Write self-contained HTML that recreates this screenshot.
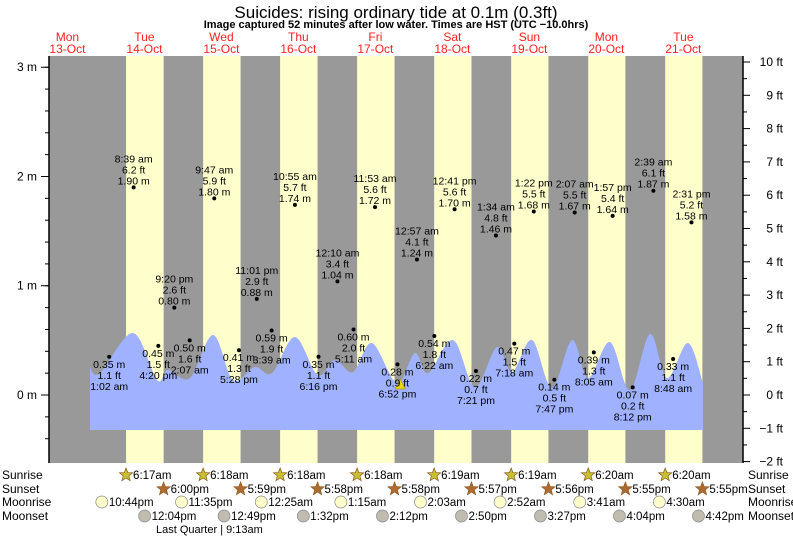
<!DOCTYPE html>
<html><head><meta charset="utf-8"><style>
html,body{margin:0;padding:0;background:#fff;}
svg{display:block;font-family:"Liberation Sans",sans-serif;}
</style></head><body>
<svg id="chart" width="793" height="537" viewBox="0 0 793 537">
<text x="396" y="18" text-anchor="middle" font-size="17" fill="#000">Suicides: rising  ordinary tide at 0.1m (0.3ft)</text>
<text x="396" y="28" text-anchor="middle" font-size="11" font-weight="bold" fill="#000">Image captured 52 minutes after low water. Times are HST (UTC −10.0hrs)</text>
<g id="bands"></g>
<g id="tide"></g>
<g id="axes"></g>
<g id="labels"></g>
<g id="events"></g>
</svg>
<script>
// ---- data ----
const dayNames = ["Mon","Tue","Wed","Thu","Fri","Sat","Sun","Mon","Tue"];
const dayDates = ["13-Oct","14-Oct","15-Oct","16-Oct","17-Oct","18-Oct","19-Oct","20-Oct","21-Oct"];
const sunriseHours = [6.28,6.30,6.30,6.30,6.32,6.32,6.33,6.33];
const sunriseLabels = ["6:17am","6:18am","6:18am","6:18am","6:19am","6:19am","6:20am","6:20am"];
const sunsetHours = [18.0,17.98,17.97,17.97,17.95,17.93,17.92,17.92];
const sunsetLabels = ["6:00pm","5:59pm","5:58pm","5:58pm","5:57pm","5:56pm","5:55pm","5:55pm"];
const moonriseHours = [-1.27,23.58,48.42,73.25,98.05,122.87,147.68,172.5];
const moonriseLabels = ["10:44pm","11:35pm","12:25am","1:15am","2:03am","2:52am","3:41am","4:30am"];
const moonsetHours = [12.07,36.82,61.53,86.2,110.83,135.45,160.07,184.7];
const moonsetLabels = ["12:04pm","12:49pm","1:32pm","2:12pm","2:50pm","3:27pm","4:04pm","4:42pm"];
// extremes: hours from midnight Tue 14-Oct
const extHours = [1.03,8.65,16.33,21.33,26.12,33.78,41.47,47.02,51.65,58.92,66.27,72.17,77.18,83.88,90.87,96.95,102.37,108.68,115.35,121.57,127.3,133.37,139.78,146.12,152.08,157.95,164.2,170.65,176.8,182.52];
const extMeters = [0.35,1.90,0.45,0.80,0.50,1.80,0.41,0.88,0.59,1.74,0.35,1.04,0.60,1.72,0.28,1.24,0.54,1.70,0.22,1.46,0.47,1.68,0.14,1.67,0.39,1.64,0.07,1.87,0.33,1.58];
const extFeet = ["1.1","6.2","1.5","2.6","1.6","5.9","1.3","2.9","1.9","5.7","1.1","3.4","2.0","5.6","0.9","4.1","1.8","5.6","0.7","4.8","1.5","5.5","0.5","5.5","1.3","5.4","0.2","6.1","1.1","5.2"];
const extTimes = ["1:02 am","8:39 am","4:20 pm","9:20 pm","2:07 am","9:47 am","5:28 pm","11:01 pm","3:39 am","10:55 am","6:16 pm","12:10 am","5:11 am","11:53 am","6:52 pm","12:57 am","6:22 am","12:41 pm","7:21 pm","1:34 am","7:18 am","1:22 pm","7:47 pm","2:07 am","8:05 am","1:57 pm","8:12 pm","2:39 am","8:48 am","2:31 pm"];
const extIsHigh = [0,1,0,1,0,1,0,1,0,1,0,1,0,1,0,1,0,1,0,1,0,1,0,1,0,1,0,1,0,1];
// drawn tide curve (ft)
const curveHours = [-4.96,-1.84,8.45,15.93,19.36,26.2,33.4,39.6,46.4,51.8,58.9,66.0,71.4,77.0,82.9,90.7,96.3,100.4,108.2,115.0,121.9,126.6,132.8,139.0,145.3,150.3,157.1,163.3,169.6,174.9,181.4,186.1];
const curveFeet = [0.81,0.66,1.86,0.45,0.75,0.51,1.80,0.45,0.84,0.66,1.74,0.60,1.05,0.69,1.56,0.36,1.26,0.66,1.65,0.24,1.44,0.69,1.65,0.21,1.65,0.51,1.59,0.15,1.83,0.51,1.56,0.36];
const curveBaseFt = -1.05;
const meterTicks = [3,2,1,0];
const feetTicks = [10,9,8,7,6,5,4,3,2,1,0,-1,-2];
const nowHour = 91.73;

// ---- scales ----
const X0 = 49, X1 = 743, Y0 = 56, Y1 = 463;
const MID = 105.9, PXH = 3.2083, PXFT = 33.3, ZERO_Y = 395;
const xh = h => MID + h*PXH;
const yft = f => ZERO_Y - f*PXFT;
const ym = m => yft(m*3.28084);
const NS = "http://www.w3.org/2000/svg";
function mk(tag, parent, attrs, txt){ const e=document.createElementNS(NS,tag); for(const k in attrs) e.setAttribute(k,attrs[k]); if(txt!==undefined) e.textContent=txt; parent.appendChild(e); return e; }
const bands=document.getElementById('bands'), tide=document.getElementById('tide'), axes=document.getElementById('axes'), labels=document.getElementById('labels'), events=document.getElementById('events');

// background
let bg = mk('rect',bands,{x:X0,y:Y0,width:X1-X0,height:Y1-Y0,fill:'#999999'});


for(let i=0;i<sunriseHours.length;i++){
  const a = xh(24*i+sunriseHours[i]), b = xh(24*i+sunsetHours[i]);
  const r = mk('rect',bands,{x:a,y:Y0,width:b-a,height:Y1-Y0,fill:'#ffffcc'});
  
  
}
// day labels
for(let i=0;i<dayNames.length;i++){
  const cx = xh(24*(i-1)+12);
  const t1 = mk('text',labels,{x:cx,y:41,'text-anchor':'middle','font-size':12,fill:'#ff2020'},dayNames[i]);
  
  
  const t2 = mk('text',labels,{x:cx,y:53,'text-anchor':'middle','font-size':12,fill:'#ff2020'},dayDates[i]);
  
  
}
// tide curve (smooth Catmull-Rom)
const pts = curveHours.map((h,i)=>[xh(h),yft(curveFeet[i])]);
let d = `M${pts[0][0]},${yft(curveBaseFt)} L${pts[0][0]},${pts[0][1]}`;
for(let i=0;i<pts.length-1;i++){
  const p0=pts[Math.max(0,i-1)],p1=pts[i],p2=pts[i+1],p3=pts[Math.min(pts.length-1,i+2)];
  const c1=[p1[0]+(p2[0]-p0[0])/6,p1[1]+(p2[1]-p0[1])/6], c2=[p2[0]-(p3[0]-p1[0])/6,p2[1]-(p3[1]-p1[1])/6];
  d+=` C${c1[0]},${c1[1]} ${c2[0]},${c2[1]} ${p2[0]},${p2[1]}`;
}
d+=` L${pts[pts.length-1][0]},${yft(curveBaseFt)} Z`;
const area = mk('path',tide,{d:d,fill:'#9fb1ff'});


// now marker
const nx = xh(nowHour), ny = 383;
const nm = mk('polygon',tide,{points:`${nx-5},${ny+6} ${nx+5},${ny+6} ${nx},${ny-4}`,fill:'#e8d800',stroke:'#998800','stroke-width':0.5});



// axes
mk('line',axes,{x1:X0,y1:Y0,x2:X0,y2:Y1,stroke:'#000','stroke-width':1.5});
mk('line',axes,{x1:X1,y1:Y0,x2:X1,y2:Y1,stroke:'#000','stroke-width':1.5});
for(let m=-0.4;m<=3.21;m+=0.2){ const y=ym(m); if(y<Y0||y>Y1) continue; mk('line',axes,{x1:X0-4,y1:y,x2:X0,y2:y,stroke:'#000'}); }
meterTicks.forEach(m=>{ const y=ym(m); mk('line',axes,{x1:X0-8,y1:y,x2:X0,y2:y,stroke:'#000'});
  const t=mk('text',axes,{x:X0-12,y:y+4,'text-anchor':'end','font-size':12},m+' m');
  
   });
for(let f=-2;f<=10;f+=0.5){ const y=yft(f); mk('line',axes,{x1:X1,y1:y,x2:X1+(f%1===0?7:4),y2:y,stroke:'#000'}); }
feetTicks.forEach(f=>{ const y=yft(f);
  const t=mk('text',axes,{x:X1+40,y:y+4,'text-anchor':'end','font-size':12},(f<0?'−'+(-f):f)+' ft');
  
   });

// extremes
for(let i=0;i<extHours.length;i++){
  const x=xh(extHours[i]), y=ym(extMeters[i]);
  const dot=mk('circle',labels,{cx:x,cy:y,r:2,fill:'#000'});
  
  
  const lines = extIsHigh[i] ? [extTimes[i],extFeet[i]+' ft',extMeters[i].toFixed(2)+' m'] : [extMeters[i].toFixed(2)+' m',extFeet[i]+' ft',extTimes[i]];
  const base = extIsHigh[i] ? y-25 : y+11;
  lines.forEach((s,k)=>{ const t=mk('text',labels,{x:x,y:base+k*11,'text-anchor':'middle','font-size':10.5,fill:'#000'},s);
    
     });
}

// event rows
const rowNames=["Sunrise","Sunset","Moonrise","Moonset"], rowY=[475,489,502,516];
rowNames.forEach((n,i)=>{
  const a=mk('text',events,{x:2,y:rowY[i]+4,'font-size':12},n);  
  const b=mk('text',events,{x:748,y:rowY[i]+4,'font-size':12},n);  
});
function star(cx,cy,fill){ let p=[]; for(let k=0;k<10;k++){const r=k%2?3:7, a=-Math.PI/2+k*Math.PI/5; p.push((cx+r*Math.cos(a)).toFixed(1)+','+(cy+r*Math.sin(a)).toFixed(1));} return mk('polygon',events,{points:p.join(' '),fill:fill,stroke:'#8a5a20','stroke-width':0.7}); }
function addEvent(hrs,lbls,row,kind){
  hrs.forEach((h,i)=>{ const x=xh(h), y=rowY[row]; let ic;
    if(kind==='sunrise') ic=star(x,y,'#c8c030'); else if(kind==='sunset') ic=star(x,y,'#b06a30');
    else ic=mk('circle',events,{cx:x,cy:y,r:6,fill:kind==='moonrise'?'#ffffcc':'#c0bcb0',stroke:'#888','stroke-width':0.7});
    
    
    const t=mk('text',events,{x:x+7,y:y+4,'font-size':11.5},lbls[i]);
    
    
  });
}
addEvent(sunriseHours.map((h,i)=>24*i+h),sunriseLabels,0,'sunrise');
addEvent(sunsetHours.map((h,i)=>24*i+h),sunsetLabels,1,'sunset');
addEvent(moonriseHours,moonriseLabels,2,'moonrise');
addEvent(moonsetHours,moonsetLabels,3,'moonset');
const lq=mk('text',events,{x:156,y:533,'font-size':11},'Last Quarter | 9:13am');


</script>
</body></html>
